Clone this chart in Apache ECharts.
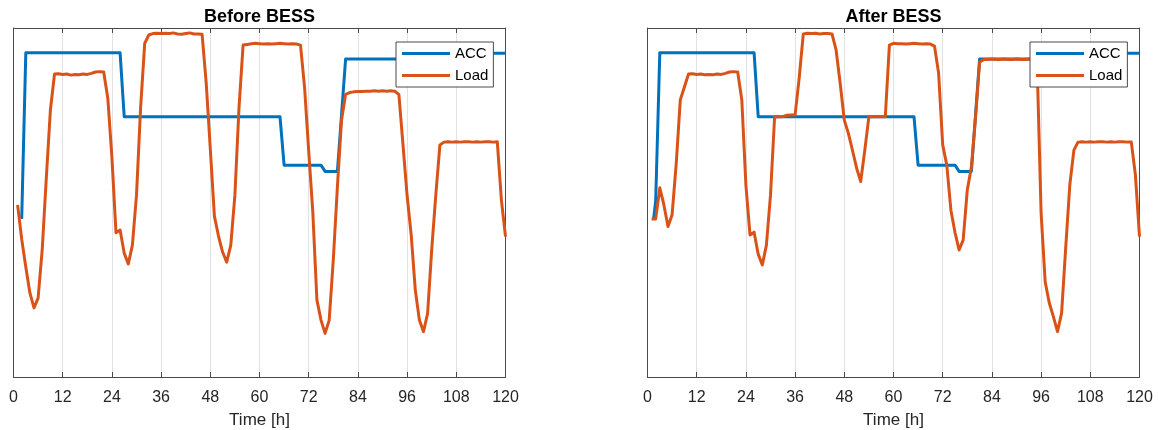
<!DOCTYPE html>
<html>
<head>
<meta charset="utf-8">
<script src="https://cdn.jsdelivr.net/npm/echarts@6/dist/echarts.min.js"></script>
<style>
html,body{margin:0;padding:0;background:#fff;}
#chart{width:1158px;height:430px;}
</style>
</head>
<body>
<div id="chart"></div>
<script>
// ---------------- DATA ----------------
const panelTitles = ['Before BESS', 'After BESS'];
const xTicks = [0, 12, 24, 36, 48, 60, 72, 84, 96, 108, 120];
const startHour = 1; // first hourly sample of the Load series

// ACC before BESS, breakpoints [hour, value]
const accBeforeHours  = [2,    3,    26,   27,   65,   66,   75,   76,   79,   81,   105,  106,  120];
const accBeforeValues = [45.3, 92.9, 92.9, 74.6, 74.6, 60.7, 60.7, 58.9, 58.9, 91.1, 91.1, 92.8, 92.8];

// ACC after BESS, breakpoints [hour, value]
const accAfterHours  = [1.5,  2,    3,    26,   27,   65,   66,   75,   76,   79,   81,   105,  106,  120];
const accAfterValues = [45.3, 50.5, 92.9, 92.9, 74.6, 74.6, 60.7, 60.7, 58.9, 58.9, 91.1, 91.1, 92.8, 92.8];

// Load before BESS, hourly from hour 1 to 120
const loadBefore = [
  49.3, 39.5, 31.5, 24.1, 19.8, 22.6, 36.4, 57.0, 76.5, 86.8,
  86.9, 86.7, 86.8, 86.5, 86.7, 86.6, 86.8, 86.7, 87.0, 87.4,
  87.5, 87.4, 79.9, 63.0, 41.3, 42.1, 35.5, 32.4, 37.8, 52.1,
  77.1, 95.6, 98.0, 98.4, 98.5, 98.4, 98.5, 98.4, 98.6, 98.3,
  98.2, 98.4, 98.6, 98.3, 98.3, 98.2, 84.3, 65.4, 46.1, 40.4,
  35.8, 32.9, 37.8, 52.1, 77.1, 95.1, 95.3, 95.5, 95.6, 95.5,
  95.4, 95.5, 95.4, 95.5, 95.6, 95.5, 95.4, 95.5, 95.4, 95.1,
  82.9, 64.7, 47.3, 22.1, 16.3, 12.5, 16.3, 33.6, 54.5, 73.5,
  81.0, 81.5, 81.7, 81.8, 81.8, 81.9, 81.9, 82.0, 81.9, 82.0,
  81.9, 82.0, 81.9, 80.9, 66.5, 52.0, 40.7, 24.9, 16.3, 13.0,
  18.2, 36.4, 52.1, 66.5, 67.3, 67.4, 67.3, 67.4, 67.3, 67.4,
  67.4, 67.3, 67.4, 67.3, 67.4, 67.4, 67.3, 67.4, 50.7, 40.2
];

// Load after BESS, hourly from hour 1 to 120
const loadAfter = [
  45.3, 45.3, 54.2, 49.3, 43.1, 46.5, 61.0, 79.4, 83.1, 86.8,
  86.9, 86.7, 86.8, 86.6, 86.7, 86.6, 86.8, 86.7, 87.0, 87.4,
  87.5, 87.4, 79.4, 55.0, 40.7, 41.5, 35.2, 32.1, 37.8, 52.1,
  74.5, 74.6, 74.6, 75.0, 75.1, 75.1, 85.7, 98.3, 98.5, 98.4,
  98.5, 98.3, 98.4, 98.4, 98.3, 93.7, 84.1, 73.6, 69.8, 64.9,
  59.9, 56.0, 65.0, 74.6, 74.6, 74.6, 74.6, 74.6, 95.1, 95.6,
  95.5, 95.5, 95.4, 95.5, 95.6, 95.5, 95.4, 95.5, 95.4, 94.8,
  87.1, 66.5, 60.7, 47.8, 41.4, 36.4, 39.3, 53.6, 60.2, 74.2,
  90.2, 91.0, 91.0, 91.1, 91.0, 91.0, 91.1, 91.0, 91.0, 91.1,
  91.0, 91.0, 91.1, 91.0, 91.0, 47.0, 27.2, 21.2, 17.3, 13.0,
  18.3, 37.0, 55.0, 65.0, 67.3, 67.4, 67.3, 67.4, 67.3, 67.4,
  67.4, 67.3, 67.4, 67.3, 67.4, 67.4, 67.3, 67.3, 57.9, 40.2
];

// ---------------- STYLE / LAYOUT ----------------
const FONT = '"Liberation Sans", Arial, Helvetica, sans-serif';
const BLUE = '#0072BD';
const ORANGE = '#D95319';
const AX = '#4a4a4a';
const TXT = '#262626';
const GRIDS = [
  {left: 13.5, top: 28, width: 492, height: 349},
  {left: 647.5, top: 28, width: 492, height: 349}
];

const pairs = (hs, vs) => hs.map((h, i) => [h, vs[i]]);
const toPairs = arr => arr.map((v, i) => [startHour + i, v]);
const accs = [pairs(accBeforeHours, accBeforeValues), pairs(accAfterHours, accAfterValues)];
const loads = [toPairs(loadBefore), toPairs(loadAfter)];

const grid = [], xAxis = [], yAxis = [], series = [], title = [], legend = [];
GRIDS.forEach((g, p) => {
  grid.push({left: g.left, top: g.top, width: g.width, height: g.height, show: false, outerBoundsMode: 'none'});
  const cx = g.left + g.width / 2;
  title.push({
    text: panelTitles[p], left: cx, top: 8, textAlign: 'center', padding: 0,
    textStyle: {fontFamily: FONT, fontSize: 18, fontWeight: 'bold', color: '#000'}
  });
  // bottom x axis
  xAxis.push({
    gridIndex: p, type: 'value', min: xTicks[0], max: xTicks[xTicks.length - 1],
    interval: xTicks[1] - xTicks[0], position: 'bottom',
    axisLine: {show: true, onZero: false, lineStyle: {color: AX, width: 1}},
    axisTick: {show: true, inside: true, length: 5, lineStyle: {color: AX}},
    axisLabel: {fontFamily: FONT, fontSize: 16, color: TXT, margin: 13},
    splitLine: {show: true, lineStyle: {color: '#e2e2e2', width: 1}},
    name: 'Time [h]', nameLocation: 'middle', nameGap: 35,
    nameTextStyle: {fontFamily: FONT, fontSize: 17, color: TXT}
  });
  // top x axis (box + ticks)
  xAxis.push({
    gridIndex: p, type: 'value', min: xTicks[0], max: xTicks[xTicks.length - 1],
    interval: xTicks[1] - xTicks[0], position: 'top',
    axisLine: {show: true, onZero: false, lineStyle: {color: AX, width: 1}},
    axisTick: {show: true, inside: true, length: 5, lineStyle: {color: AX}},
    axisLabel: {show: false}, splitLine: {show: false}
  });
  ['left', 'right'].forEach(pos => {
    yAxis.push({
      gridIndex: p, type: 'value', min: 0, max: 100, position: pos,
      axisLine: {show: true, onZero: false, lineStyle: {color: AX, width: 1}},
      axisTick: {show: false}, axisLabel: {show: false}, splitLine: {show: false}
    });
  });
  series.push({
    type: 'line', name: 'ACC', xAxisIndex: p * 2, yAxisIndex: p * 2,
    data: accs[p], symbol: 'none', showSymbol: false, z: 2,
    lineStyle: {color: BLUE, width: 3, join: 'round'}, itemStyle: {color: BLUE}
  });
  series.push({
    type: 'line', name: 'Load', xAxisIndex: p * 2, yAxisIndex: p * 2,
    data: loads[p], symbol: 'none', showSymbol: false, z: 3,
    lineStyle: {color: ORANGE, width: 3, join: 'round'}, itemStyle: {color: ORANGE}
  });
  legend.push({
    data: ['ACC', 'Load'], orient: 'vertical',
    left: g.left + g.width - 109.5, top: 42,
    padding: [4, 5, 4, 6], itemGap: 7, itemWidth: 48, itemHeight: 3,
    icon: 'rect', selectedMode: false,
    backgroundColor: '#fff', borderColor: AX, borderWidth: 1,
    textStyle: {fontFamily: FONT, fontSize: 15, color: '#000'}
  });
});

const chart = echarts.init(document.getElementById('chart'), null, {renderer: 'canvas'});
chart.setOption({
  animation: false,
  backgroundColor: '#fff',
  title, legend, grid, xAxis, yAxis, series
});
</script>
</body>
</html>
